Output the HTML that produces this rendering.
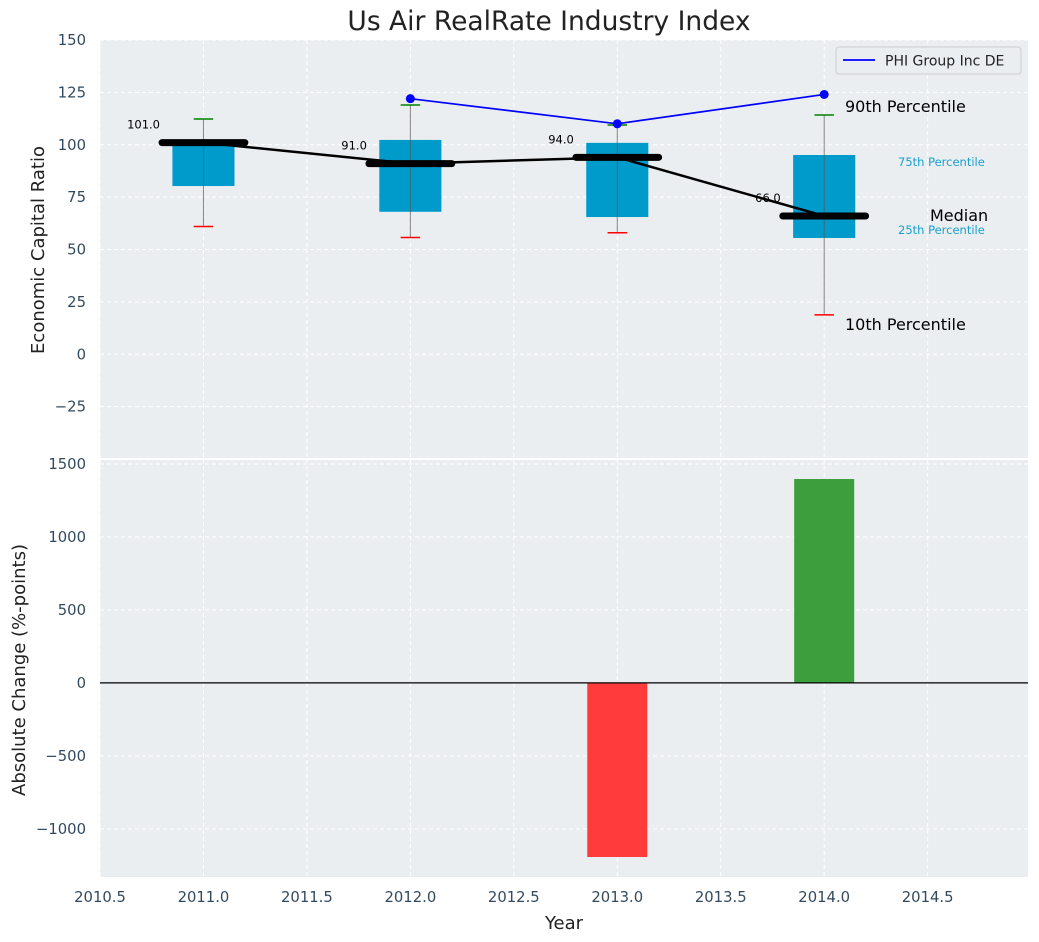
<!DOCTYPE html>
<html><head><meta charset="utf-8"><style>
body{margin:0;background:#fff;}
svg{display:block;font-family:"DejaVu Sans","Liberation Sans",sans-serif;}
</style></head><body>
<svg id="chart" width="1039" height="942" viewBox="0 0 1039 942"></svg>
<script>
const years=[2011,2012,2013,2014];
const p10=[61,55.7,58,18.8];
const p25=[80.3,68,65.5,55.5];
const median=[101,91,94,66];
const p75=[102.5,102.3,100.9,95.1];
const p90=[112.3,119,109.4,114.2];
const phiYears=[2012,2013,2014];
const phiValues=[122,110,124];
const changeYears=[2013,2014];
const changeValues=[-1193,1397];
const xTicks=[2010.5,2011.0,2011.5,2012.0,2012.5,2013.0,2013.5,2014.0,2014.5];
const yTopTicks=[150,125,100,75,50,25,0,-25];
const yBotTicks=[1500,1000,500,0,-500,-1000];

const NS='http://www.w3.org/2000/svg';
const svg=document.getElementById('chart');
function el(tag,attrs,parent){const e=document.createElementNS(NS,tag);for(const k in attrs)e.setAttribute(k,attrs[k]);(parent||svg).appendChild(e);return e;}
const L=100,R=1028,T1=40,B1=459,T2=459,B2=877;
const xMin=2010.5,xMax=2014.985;
const x=v=>L+(v-xMin)/(xMax-xMin)*(R-L);
const y1=v=>T1+(150-v)/200*(B1-T1);
const bMin=-1330,bMax=1534;
const y2=v=>T2+(bMax-v)/(bMax-bMin)*(B2-T2);

let r=el('rect',{x:L,y:T1,width:R-L,height:B1-T1,fill:'#eaeef0'});

r=el('rect',{x:L,y:T2,width:R-L,height:B2-T2,fill:'#eaeef0'});

el('line',{x1:L,x2:R,y1:459,y2:459,stroke:'#fff','stroke-width':2});

xTicks.forEach(t=>{
  el('line',{x1:x(t),x2:x(t),y1:T1,y2:B1,stroke:'#fff','stroke-dasharray':'4,3','stroke-width':1});
  el('line',{x1:x(t),x2:x(t),y1:T2,y2:B2,stroke:'#fff','stroke-dasharray':'4,3','stroke-width':1});
  const tl=el('text',{x:x(t),y:B2+25,'text-anchor':'middle','font-size':14.8,fill:'#334a5e'});
  tl.textContent=t.toFixed(1);
  
});
yTopTicks.forEach(t=>{
  el('line',{x1:L,x2:R,y1:y1(t),y2:y1(t),stroke:'#fff','stroke-dasharray':'4,3','stroke-width':1});
  const tl=el('text',{x:L-14,y:y1(t)+5,'text-anchor':'end','font-size':14.8,fill:'#334a5e'});
  tl.textContent=t<0?'\u2212'+Math.abs(t):t;
  
});
yBotTicks.forEach(t=>{
  el('line',{x1:L,x2:R,y1:y2(t),y2:y2(t),stroke:'#fff','stroke-dasharray':'4,3','stroke-width':1});
  const tl=el('text',{x:L-14,y:y2(t)+5,'text-anchor':'end','font-size':14.8,fill:'#334a5e'});
  tl.textContent=t<0?'\u2212'+Math.abs(t):t;
  
});

years.forEach((yr,i)=>{
  const cx=x(yr),hw=0.15*207,cw=0.047*207;
  const b=el('rect',{x:cx-hw,y:y1(p75[i]),width:2*hw,height:y1(p25[i])-y1(p75[i]),fill:'#009acb'});
  
  el('line',{x1:cx,x2:cx,y1:y1(p90[i]),y2:y1(p10[i]),stroke:'#555','stroke-opacity':0.7,'stroke-width':1});
  const c1=el('line',{x1:cx-cw,x2:cx+cw,y1:y1(p90[i]),y2:y1(p90[i]),stroke:'#008000','stroke-width':1.5});
  
  const c2=el('line',{x1:cx-cw,x2:cx+cw,y1:y1(p10[i]),y2:y1(p10[i]),stroke:'#ff0000','stroke-width':1.5});
  
});
const ml=el('polyline',{points:years.map((yr,i)=>x(yr)+','+y1(median[i])).join(' '),fill:'none',stroke:'#000','stroke-width':2.5});

years.forEach((yr,i)=>{
  const m=el('line',{x1:x(yr-0.2),x2:x(yr+0.2),y1:y1(median[i]),y2:y1(median[i]),stroke:'#000','stroke-width':7,'stroke-linecap':'round'});
  
  const t=el('text',{x:x(yr-0.21),y:y1(median[i])-14,'text-anchor':'end','font-size':11.5,fill:'#000'});
  t.textContent=median[i].toFixed(1);
  
});
const pl=el('polyline',{points:phiYears.map((yr,i)=>x(yr)+','+y1(phiValues[i])).join(' '),fill:'none',stroke:'#0000ff','stroke-width':1.7});

phiYears.forEach((yr,i)=>{
  const c=el('circle',{cx:x(yr),cy:y1(phiValues[i]),r:4.5,fill:'#0000ff'});
  
});
[['90th Percentile',845,112,16,'#000'],['75th Percentile',898,166,11.5,'#1aa0cc'],['Median',930,221,16,'#000'],['25th Percentile',898,234,11.5,'#1aa0cc'],['10th Percentile',845,330,16,'#000']].forEach(a=>{
  const t=el('text',{x:a[1],y:a[2],'font-size':a[3],fill:a[4]});t.textContent=a[0];
  
});
const lg=el('g',{});

el('rect',{x:836,y:47,width:185,height:27,rx:3,fill:'#eaeef0',stroke:'#ccc'},lg);
el('line',{x1:843,x2:875,y1:60,y2:60,stroke:'#0000ff','stroke-width':1.7},lg);
const lt=el('text',{x:885,y:65.5,'font-size':14,fill:'#222'},lg);lt.textContent='PHI Group Inc DE';

changeYears.forEach((yr,i)=>{
  const v=changeValues[i],hw=0.145*207;
  const b=el('rect',{x:x(yr)-hw,y:Math.min(y2(v),y2(0)),width:2*hw,height:Math.abs(y2(v)-y2(0)),fill:v<0?'#ff3b3b':'#3d9e3d'});
  
});
el('line',{x1:L,x2:R,y1:y2(0),y2:y2(0),stroke:'#000','stroke-width':1.2});

let t=el('text',{x:549,y:30,'text-anchor':'middle','font-size':26.5,fill:'#222'});t.textContent='Us Air RealRate Industry Index';

t=el('text',{x:564,y:929,'text-anchor':'middle','font-size':18,fill:'#222'});t.textContent='Year';

t=el('text',{x:0,y:0,'text-anchor':'middle','font-size':18,fill:'#222',transform:'translate(44,250) rotate(-90)'});t.textContent='Economic Capital Ratio';

t=el('text',{x:0,y:0,'text-anchor':'middle','font-size':18,fill:'#222',transform:'translate(25,670) rotate(-90)'});t.textContent='Absolute Change (%-points)';

</script>
</body></html>
